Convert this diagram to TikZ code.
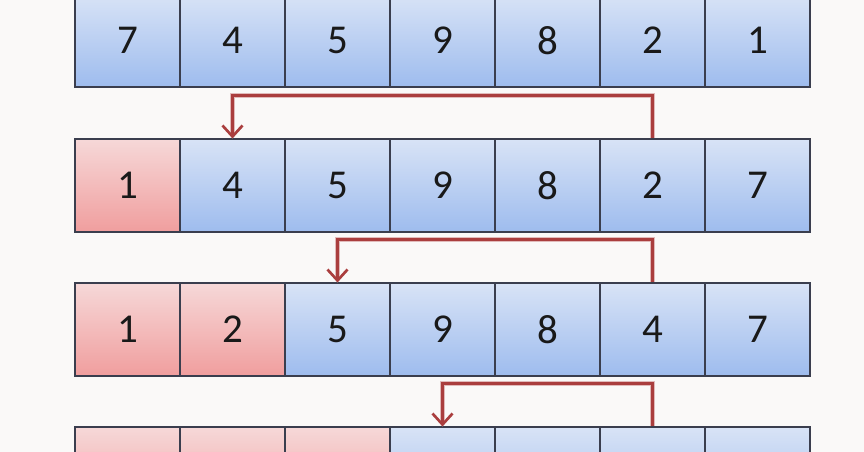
\documentclass[tikz,border=0pt]{standalone}
\usepackage{fontspec}
\setmainfont{Carlito}
\usetikzlibrary{arrows.meta}

\definecolor{paper}{RGB}{250,249,248}
\definecolor{boxline}{RGB}{58,62,78}
\definecolor{blueTop}{RGB}{216,227,246}
\definecolor{blueBot}{RGB}{158,188,238}
\definecolor{redTop}{RGB}{246,216,216}
\definecolor{redBot}{RGB}{240,158,158}
\definecolor{swapline}{RGB}{170,62,62}

\tikzset{
  cell/.style={draw=boxline, line width=1.1pt, minimum width=105pt, minimum height=93pt,
    inner sep=0pt, font=\fontsize{41}{48}\selectfont, text=black!90},
  bluecell/.style={cell, top color=blueTop, bottom color=blueBot},
  redcell/.style={cell, top color=redTop, bottom color=redBot},
  swap/.style={draw=swapline, line width=2.4pt,
    preaction={draw=swapline!35, line width=4.6pt},
    -{Straight Barb[length=11pt, width=20pt, line width=2.6pt]}}
}

\begin{document}
\begin{tikzpicture}[x=1pt, y=-1pt]
\path[use as bounding box, fill=paper] (0,0) rectangle (864,452);
\clip (0,0) rectangle (864,452);

% row 1
\foreach \v/\col [count=\i] in {7/blue,4/blue,5/blue,9/blue,8/blue,2/blue,1/blue}
  \node[\col cell] (a\i) at ({127.5+105*(\i-1)}, 40.5) {\v};
% row 2
\foreach \v/\col [count=\i] in {1/red,4/blue,5/blue,9/blue,8/blue,2/blue,7/blue}
  \node[\col cell] (b\i) at ({127.5+105*(\i-1)}, 185.5) {\v};
% row 3
\foreach \v/\col [count=\i] in {1/red,2/red,5/blue,9/blue,8/blue,4/blue,7/blue}
  \node[\col cell] (c\i) at ({127.5+105*(\i-1)}, 329.5) {\v};
% row 4 (cut off)
\foreach \col [count=\i] in {red,red,red,blue,blue,blue,blue}
  \node[\col cell] (d\i) at ({127.5+105*(\i-1)}, 473.5) {};

% swaps
\draw[swap] (b6.north) -- ++(0,-43) -| (b2.north);
\draw[swap] (c6.north) -- ++(0,-43) -| (c3.north);
\draw[swap] (d6.north) -- ++(0,-43) -| (d4.north);
\end{tikzpicture}
\end{document}
